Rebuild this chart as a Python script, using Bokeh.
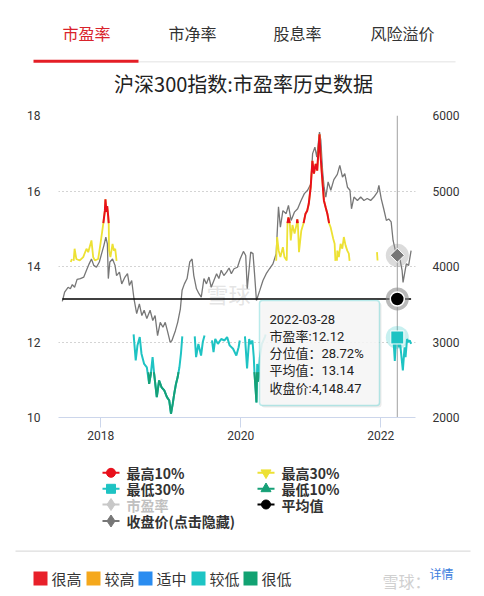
import numpy as np
import pandas as pd
from bokeh.plotting import figure
from bokeh.models import (Range1d, LinearAxis, FixedTicker, DatetimeTickFormatter, Span, Label,
                          BoxAnnotation)
from bokeh.core.properties import value
from bokeh.embed import file_html
from bokeh.resources import INLINE

# ---------------- data ----------------
tabs = ["市盈率", "市净率", "股息率", "风险溢价"]
title_text = "沪深300指数:市盈率历史数据"

price_dates = ["2017-06-14", "2017-06-26", "2017-07-14", "2017-07-26", "2017-08-05", "2017-08-17",
               "2017-08-30", "2017-09-16", "2017-10-04", "2017-10-18", "2017-11-01", "2017-11-13",
               "2017-11-25", "2017-12-09", "2017-12-24", "2018-01-05", "2018-01-17", "2018-01-27",
               "2018-02-04", "2018-02-09", "2018-02-17", "2018-03-03", "2018-03-16", "2018-03-24",
               "2018-04-08", "2018-04-20", "2018-05-07", "2018-05-20", "2018-05-30", "2018-06-11",
               "2018-06-23", "2018-07-07", "2018-07-21", "2018-08-03", "2018-08-15", "2018-08-29",
               "2018-09-15", "2018-09-29", "2018-10-11", "2018-10-24", "2018-11-07", "2018-11-21",
               "2018-12-03", "2018-12-16", "2018-12-29", "2019-01-07", "2019-01-25", "2019-02-06",
               "2019-02-20", "2019-03-01", "2019-03-13", "2019-03-27", "2019-04-10", "2019-04-22",
               "2019-05-01", "2019-05-15", "2019-05-28", "2019-06-09", "2019-06-23", "2019-07-06",
               "2019-07-19", "2019-07-31", "2019-08-14", "2019-08-28", "2019-09-09", "2019-09-21",
               "2019-10-05", "2019-10-19", "2019-11-01", "2019-11-13", "2019-11-27", "2019-12-15",
               "2019-12-29", "2020-01-15", "2020-01-27", "2020-02-04", "2020-02-22", "2020-03-05",
               "2020-03-13", "2020-03-23", "2020-04-09", "2020-04-26", "2020-05-13", "2020-05-30",
               "2020-06-17", "2020-07-04", "2020-07-09", "2020-07-16", "2020-07-26", "2020-08-08",
               "2020-08-25", "2020-09-06", "2020-09-20", "2020-10-07", "2020-10-24", "2020-11-11",
               "2020-11-28", "2020-12-15", "2021-01-01", "2021-01-10", "2021-01-22", "2021-02-01",
               "2021-02-15", "2021-02-22", "2021-03-03", "2021-03-11", "2021-03-20", "2021-04-01",
               "2021-04-15", "2021-05-01", "2021-05-19", "2021-06-01", "2021-06-15", "2021-06-27",
               "2021-07-11", "2021-07-24", "2021-08-01", "2021-08-14", "2021-09-01", "2021-09-18",
               "2021-10-05", "2021-10-22", "2021-11-09", "2021-11-26", "2021-12-14", "2021-12-22",
               "2022-01-03", "2022-01-16", "2022-01-30", "2022-02-11", "2022-02-24", "2022-03-06",
               "2022-03-18", "2022-03-28", "2022-04-09", "2022-04-22", "2022-04-27", "2022-05-14",
               "2022-05-26", "2022-06-08"]
price_values = [3537, 3660, 3725, 3705, 3760, 3725,
                3830, 3840, 3860, 3950, 4035, 4100,
                4015, 3990, 4060, 4170, 4280, 4390,
                4300, 3840, 4060, 4100, 4015, 3880,
                3925, 3770, 3860, 3905, 3750, 3815,
                3570, 3375, 3505, 3350, 3420, 3310,
                3420, 3285, 3350, 3085, 3260, 3195,
                3260, 3130, 2995, 3020, 3150, 3260,
                3440, 3685, 3770, 3840, 4060, 4100,
                3880, 3705, 3640, 3595, 3840, 3770,
                3860, 3725, 3815, 3905, 3840, 3950,
                3880, 3925, 3980, 3905, 3970, 3990,
                4100, 4200, 4145, 3705, 4190, 4170,
                3905, 3550, 3680, 3815, 3905, 3970,
                4035, 4170, 4435, 4790, 4520, 4740,
                4700, 4810, 4610, 4720, 4765, 4875,
                4965, 5010, 5095, 5495, 5580, 5450,
                5780, 5670, 5270, 5050, 4920, 5120,
                5010, 5150, 5220, 5340, 5185, 5230,
                5050, 5010, 4765, 4920, 4875, 4920,
                4875, 4900, 4875, 4920, 4985, 5075,
                4900, 4765, 4610, 4630, 4590, 4345,
                4210, 4148.47, 4125, 3950, 3790, 4035,
                4015, 4210]

top10_dates = ["2018-01-14", "2018-01-22", "2018-01-25", "2018-01-30", "2018-02-03", "2018-02-08",
               "2018-02-11", "2020-08-30", "2020-09-01", "2020-09-06", "2020-09-10", "2020-09-13",
               "2020-10-01", "2020-10-20", "2020-10-22", "2020-10-25", "2020-11-01", "2020-11-24",
               "2020-12-04", "2020-12-13", "2020-12-21", "2020-12-31", "2021-01-09", "2021-01-17",
               "2021-01-26", "2021-02-03", "2021-02-15", "2021-02-21", "2021-03-02", "2021-03-10",
               "2021-03-19", "2021-03-28", "2021-04-06"]
top10_values = [15.15, 15.48, 15.78, 15.45, 15.6, 15.35,
                15.15, None, 15.15, 15.3, 15.22, 15.15,
                None, 15.15, 15.25, 15.15, None, 15.15,
                15.4, 15.48, 15.66, 16.1, 16.8, 16.46,
                16.72, 16.54, 17.5, 16.9, 16.28, 15.75,
                15.57, 15.4, 15.15]

top30_dates = ["2017-07-28", "2017-08-03", "2017-08-08", "2017-08-12", "2017-08-17", "2017-08-26",
               "2017-09-13", "2017-10-01", "2017-10-18", "2017-10-27", "2017-11-13", "2017-11-22",
               "2017-12-01", "2017-12-18", "2017-12-30", "2018-01-14", "2018-01-22", "2018-01-25",
               "2018-01-30", "2018-02-03", "2018-02-08", "2018-02-11", "2018-02-13", "2018-02-20",
               "2018-03-03", "2018-03-10", "2018-03-17", "2018-03-24", "2018-04-01",
               "2020-07-04", "2020-07-09", "2020-07-17", "2020-07-26", "2020-08-08", "2020-08-16",
               "2020-08-28", "2020-09-01", "2020-09-06", "2020-09-13", "2020-09-18", "2020-09-27",
               "2020-10-08", "2020-10-20", "2020-10-22", "2020-10-25", "2020-10-31", "2020-11-12",
               "2020-11-24", "2020-12-04", "2020-12-13", "2020-12-21", "2020-12-31", "2021-01-09",
               "2021-01-17", "2021-01-26", "2021-02-03", "2021-02-15", "2021-02-21", "2021-03-02",
               "2021-03-10", "2021-03-19", "2021-03-28", "2021-04-06", "2021-04-14", "2021-04-28",
               "2021-05-05", "2021-05-09", "2021-05-12", "2021-05-17", "2021-05-19", "2021-05-27",
               "2021-06-05", "2021-06-14", "2021-06-22", "2021-07-01", "2021-07-10", "2021-07-18",
               "2021-07-22", "2021-08-01", "2021-12-12", "2021-12-15"]
top30_values = [14.12, 14.2, None, 14.15, 14.47, 14.2,
                14.16, 14.25, 14.47, 14.38, 14.69, 14.25,
                14.16, 14.2, 14.6, 15.15, 15.48, 15.78,
                15.45, 15.6, 15.35, 15.15, 14.42, 14.25,
                14.6, 14.42, 14.47, 14.15, None,
                14.15, 14.78, 14.42, 14.25, 14.51, 14.25,
                14.16, 15.15, 15.3, 15.15, 14.69, 15.1,
                14.87, 15.15, 15.25, 15.15, 14.38, 14.95,
                15.15, 15.4, 15.48, 15.66, 16.1, 16.8,
                16.46, 16.72, 16.54, 17.5, 16.9, 16.28,
                15.75, 15.57, 15.4, 15.15, 15.04, 14.73,
                14.6, 14.15, None, 14.15, 14.42, 14.25,
                14.6, 14.47, 14.78, 14.56, 14.42, 14.34,
                14.15, None, 14.38, 14.16]

low30_dates = ["2018-06-21", "2018-07-02", "2018-07-11", "2018-07-23", "2018-08-01", "2018-08-15",
               "2018-08-29", "2018-09-10", "2018-09-19", "2018-09-28", "2018-10-06", "2018-10-20",
               "2018-11-01", "2018-11-14", "2018-11-28", "2018-12-12", "2018-12-24", "2019-01-02",
               "2019-01-11", "2019-01-19", "2019-01-28", "2019-02-06", "2019-02-15", "2019-02-23",
               "2019-03-02", "2019-03-15",
               "2019-05-06", "2019-05-13", "2019-05-25", "2019-06-08", "2019-06-17", "2019-06-26",
               "2019-07-15",
               "2019-08-04", "2019-08-12", "2019-08-21", "2019-09-04", "2019-09-21", "2019-10-08",
               "2019-10-22", "2019-11-04", "2019-11-22", "2019-12-09", "2019-12-21", "2019-12-27",
               "2020-01-10",
               "2020-01-23", "2020-02-03", "2020-02-14", "2020-02-21", "2020-03-02", "2020-03-09",
               "2020-03-13", "2020-03-19", "2020-03-23", "2020-03-27", "2020-03-31", "2020-04-03",
               "2020-04-10", "2020-04-20", "2020-05-06", "2020-05-10", "2020-06-01",
               "2022-03-02", "2022-03-08", "2022-03-15", "2022-03-21", "2022-03-28", "2022-04-06",
               "2022-04-12", "2022-04-26", "2022-05-05", "2022-05-10", "2022-05-18", "2022-05-25",
               "2022-06-01", "2022-06-08"]
low30_values = [12.2, 11.51, 11.91, 12.13, 11.69, 11.42,
                11.33, 10.89, 11.16, 11.6, 11.16, 10.54,
                10.98, 10.8, 10.72, 10.54, 10.45, 10.1,
                10.36, 10.63, 10.89, 11.07, 11.33, 11.69,
                12.15, None,
                12.15, 11.6, 11.95, 11.64, 12.0, 12.17,
                None,
                12.04, 11.73, 12.08, 11.95, 12.08, 12.04,
                12.13, 11.91, 11.82, 11.64, 11.86, 12.04,
                None,
                12.15, 11.3, 12.08, 11.95, 12.04, 11.6,
                11.16, 10.72, 10.4, 11.42, 10.95, 11.07,
                11.6, 11.95, 12.13, 12.2, None,
                12.15, 12.08, 11.5, 12.05, 12.12, 11.86,
                11.95, 11.25, 11.86, 11.6, 12.08, 12.0,
                12.04, 11.95]

low10_dates = ["2018-09-06", "2018-09-10", "2018-09-19", "2018-09-20", "2018-09-25", "2018-10-04",
               "2018-10-06", "2018-10-20", "2018-11-01", "2018-11-14", "2018-11-28", "2018-12-12",
               "2018-12-24", "2019-01-02", "2019-01-11", "2019-01-19", "2019-01-28", "2019-02-06",
               "2019-02-10", "2019-02-20", "2020-03-12", "2020-03-13", "2020-03-19", "2020-03-23",
               "2020-03-25", "2020-03-26", "2020-03-28", "2020-03-30", "2020-03-31", "2020-04-03",
               "2020-04-05"]
low10_values = [11.2, 10.89, 11.16, 11.2, None, 11.2,
                11.16, 10.54, 10.98, 10.8, 10.72, 10.54,
                10.45, 10.1, 10.36, 10.63, 10.89, 11.07,
                11.2, None, 11.2, 11.16, 10.72, 10.4,
                11.0, 11.2, None, 11.2, 10.95, 11.07,
                11.2]

avg_pe = 13.14
hover_date = "2022-03-28"
hover_pe = 12.12
hover_pct = 28.72
hover_close = 4148.47

x_tick_years = [2018, 2020, 2022]
pe_ticks = [10, 12, 14, 16, 18]
price_ticks = [2000, 3000, 4000, 5000, 6000]

series_names = ["最高10%", "最高30%", "最低30%", "最低10%", "市盈率", "平均值", "收盘价(点击隐藏)"]
level_names = ["很高", "较高", "适中", "较低", "很低"]

# ---------------- styles ----------------
RED, YELLOW, CYAN, GREEN = "#e8101c", "#ede134", "#1ec3c3", "#16a077"
GRAY = "#777777"
level_colors = ["#e8202a", "#f5a81c", "#2a8cf0", "#1dc4c4", "#12a272"]
CJK = "Noto Sans CJK SC"
NUM = "Roboto"
MIX = "Roboto, 'Noto Sans CJK SC'"
W = 484
HEAD_H, MAIN_TOP, MAIN_BOT = 100, 100, 446   # page y ranges of the three panels


def dts(lst):
    return pd.to_datetime(lst)


def ts(s):
    return pd.Timestamp(s).value / 1e6


def blank(height, y0):
    f = figure(width=W, height=height, x_range=Range1d(0, W), y_range=Range1d(y0 + height, y0),
               x_axis_location=None, y_axis_location=None, toolbar_location=None,
               output_backend="svg", min_border=0)
    f.grid.visible = False
    f.outline_line_color = None
    f.background_fill_color = "white"
    f.border_fill_color = "white"
    return f


def txt(f, s, x, y, size, color, align="left", font=CJK, style="normal", alpha=1.0):
    f.text(x=[x], y=[y], text=[s], text_font=value(font), text_font_size=value(f"{size}px"),
           text_color=color, text_align=align, text_baseline="middle",
           text_font_style=style, text_alpha=alpha)


# ---------------- header ----------------
h = blank(HEAD_H, 0)
tab_x = [86, 192, 297, 402]
for i, (t, x) in enumerate(zip(tabs, tab_x)):
    txt(h, t, x, 32.5, 16, "#d9232b" if i == 0 else "#333333", align="center")
h.quad(left=[138], right=[455], top=[60.5], bottom=[62], fill_color="#ececec", line_color=None)
h.quad(left=[33], right=[138], top=[59.3], bottom=[62.3], fill_color="#e41e26", line_color=None)
txt(h, title_text, 243, 83, 20, "#222222", align="center")

# ---------------- main chart ----------------
FL, FT, FR, FB = 58, 115, 415, 417   # frame edges in page pixels
p = figure(width=W, height=MAIN_BOT - MAIN_TOP, x_axis_type="datetime", output_backend="svg",
           toolbar_location=None, title=None,
           x_range=Range1d(pd.Timestamp("2017-05-25"), pd.Timestamp("2022-07-01")),
           y_range=Range1d(10, 18))
p.min_border_left = FL
p.min_border_right = W - FR
p.min_border_top = FT - MAIN_TOP
p.min_border_bottom = MAIN_BOT - FB
p.outline_line_color = None
p.background_fill_color = "white"
p.border_fill_color = "white"
p.extra_y_ranges = {"price": Range1d(2000, 6000)}

xa = p.xaxis[0]
xa.ticker = FixedTicker(ticks=[ts(f"{y}-01-01") for y in x_tick_years])
xa.formatter = DatetimeTickFormatter(years="%Y", months="%Y", days="%Y", hours="%Y",
                                     minutes="%Y", seconds="%Y", milliseconds="%Y",
                                     microseconds="%Y", minsec="%Y", hourmin="%Y")
xa.axis_line_color = "#ccd6eb"
xa.major_tick_line_color = "#ccd6eb"
xa.major_tick_out = 10
xa.major_tick_in = 0
xa.minor_tick_line_color = None
xa.major_label_standoff = 3
xa.major_label_text_font = NUM
xa.major_label_text_font_size = "12px"
xa.major_label_text_color = "#333333"

ya = p.yaxis[0]
ya.ticker = FixedTicker(ticks=pe_ticks)
ya.axis_line_color = None
ya.major_tick_line_color = None
ya.minor_tick_line_color = None
ya.major_tick_out = 0
ya.major_tick_in = 0
ya.major_label_standoff = 18
ya.major_label_text_font = NUM
ya.major_label_text_font_size = "12px"
ya.major_label_text_color = "#333333"

ra = LinearAxis(y_range_name="price", ticker=FixedTicker(ticks=price_ticks))
ra.axis_line_color = None
ra.major_tick_line_color = None
ra.minor_tick_line_color = None
ra.major_tick_out = 0
ra.major_tick_in = 0
ra.major_label_standoff = 17
ra.major_label_text_font = NUM
ra.major_label_text_font_size = "12px"
ra.major_label_text_color = "#333333"
p.add_layout(ra, "right")

p.xgrid.visible = False
p.ygrid.ticker = FixedTicker(ticks=pe_ticks[1:])
p.ygrid.grid_line_color = "#a8a8a8"
p.ygrid.grid_line_dash = "1 3"
p.ygrid.grid_line_width = 1


def lab(s, ix, iy, size, color, align="left", font=CJK, level="annotation", alpha=1.0):
    p.add_layout(Label(x=ix - FL, y=FB - iy, x_units="screen", y_units="screen", text=s,
                       text_font=font, text_font_size=f"{size}px", text_color=color,
                       text_align=align, text_baseline="middle", text_alpha=alpha, level=level))


def box(ix0, ix1, iy0, iy1, color, alpha=1.0, line=None, lw=1, radius=0):
    p.add_layout(BoxAnnotation(left=ix0 - FL, right=ix1 - FL, top=FB - iy0, bottom=FB - iy1,
                               left_units="screen", right_units="screen", top_units="screen",
                               bottom_units="screen", fill_color=color, fill_alpha=alpha,
                               line_color=line, line_width=lw, border_radius=radius,
                               level="overlay"))


lab("雪球", 228, 292, 22, "#d8d8d8", align="center", level="underlay", alpha=0.7)

p.add_layout(Span(location=ts(hover_date), dimension="height", line_color="#a0a0a0",
                  line_width=1, level="underlay"))

p.line(dts(price_dates), price_values, y_range_name="price", line_color=GRAY, line_width=1.3)
p.line(dts([price_dates[0], price_dates[-1]]), [avg_pe, avg_pe], line_color="black",
       line_width=1.5)
p.line(dts(top30_dates), np.array(top30_values, dtype=float), line_color=YELLOW, line_width=1.8)
p.line(dts(top10_dates), np.array(top10_values, dtype=float), line_color=RED, line_width=2)
p.line(dts(low30_dates), np.array(low30_values, dtype=float), line_color=CYAN, line_width=2)
p.line(dts(low10_dates), np.array(low10_values, dtype=float), line_color=GREEN, line_width=2)

hx = dts([hover_date])
p.scatter(hx, [hover_close], y_range_name="price", size=23, fill_color="#999999",
          fill_alpha=0.35, line_color=None)
p.scatter(hx, [hover_close], y_range_name="price", marker="square", angle=np.pi / 4, size=10,
          fill_color=GRAY, line_color="white", line_width=1)
p.scatter(hx, [avg_pe], size=23, fill_color="#8c8c8c", fill_alpha=0.6, line_color=None)
p.scatter(hx, [avg_pe], size=14, fill_color="black", line_color="white", line_width=1.5)
p.scatter(hx, [hover_pe], size=23, fill_color=CYAN, fill_alpha=0.25, line_color=None)
p.scatter(hx, [hover_pe], marker="square", size=13, fill_color=CYAN, line_color="white",
          line_width=1)

# tooltip
box(261, 381, 302, 407, "#000000", alpha=0.08, radius=3)
box(259, 379, 300, 405, "#f7f7f7", alpha=0.88, line=CYAN, lw=1.5, radius=3)
tip_lines = [hover_date,
             f"市盈率:{hover_pe:.2f}",
             f"分位值：{hover_pct:.2f}%",
             f"平均值：{avg_pe:.2f}",
             f"收盘价:{hover_close:,.2f}"]
for i, t in enumerate(tip_lines):
    lab(t, 269, 318.5 + 17.3 * i, 13, "#222222", font=MIX, level="overlay")

# ---------------- footer (legends) ----------------
f = blank(596 - MAIN_BOT, MAIN_BOT)
leg_specs = [  # name, colour, marker, column, row, active
    (series_names[0], RED, "circle", 0, 0, True),
    (series_names[1], YELLOW, "inverted_triangle", 1, 0, True),
    (series_names[2], CYAN, "square", 0, 1, True),
    (series_names[3], GREEN, "triangle", 1, 1, True),
    (series_names[4], "#c8c8c8", "diamond", 0, 2, False),
    (series_names[5], "black", "circle", 1, 2, True),
    (series_names[6], GRAY, "diamond", 0, 3, True),
]
col_x = [102, 257]
row_y = [472.3, 488.3, 504, 520.5]
msize = {"circle": 9, "inverted_triangle": 10, "square": 9, "triangle": 10, "diamond": 12}
for name, colr, mk, c, r, active in leg_specs:
    x0, y0 = col_x[c], row_y[r]
    f.line([x0, x0 + 17], [y0, y0], line_color=colr, line_width=2)
    f.scatter([x0 + 8.5], [y0], marker=mk, size=msize[mk], fill_color=colr, line_color=colr)
    txt(f, name, x0 + 24, y0, 14, "#333333" if active else "#c0c0c0", style="bold")

f.quad(left=[15], right=[470], top=[550], bottom=[551.3], fill_color="#dddddd", line_color=None)

sq_x = [33, 86, 138, 191, 243]
for nm, colr, x in zip(level_names, level_colors, sq_x):
    f.quad(left=[x], right=[x + 14], top=[571], bottom=[585], fill_color=colr, line_color=None)
    txt(f, nm, x + 18, 578, 15, "#333333")

txt(f, "雪球：", 382, 580, 16, "#d0d0d0")
txt(f, "详情", 441, 573, 12, "#3b7ddd", align="center")

# three independent roots stacked on the page (no frame alignment between them)
open("out.html", "w").write(file_html([h, p, f], INLINE))
